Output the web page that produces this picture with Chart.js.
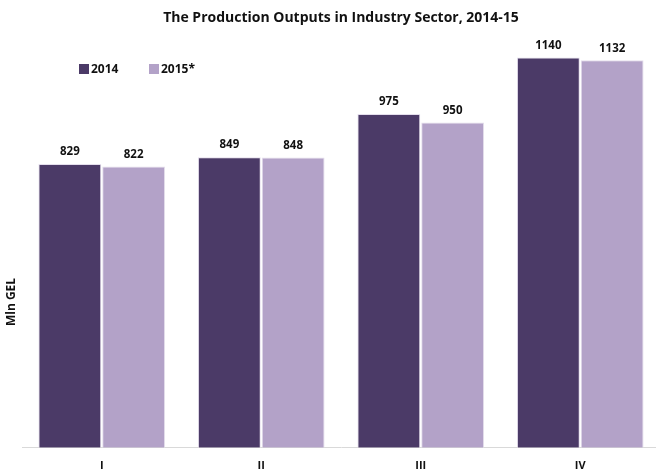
<!DOCTYPE html>
<html><head><meta charset="utf-8">
<script src="https://cdn.jsdelivr.net/npm/chart.js@4"></script>
<style>html,body{margin:0;padding:0;overflow:hidden;background:#fff}#wrap{width:660px;height:483px;position:relative}</style>
</head><body><div id="wrap"><canvas id="c"></canvas></div>
<script>
const categories = ['I','II','III','IV'];
const values2014 = [829, 849, 975, 1140];
const values2015 = [822, 848, 950, 1132];
const seriesNames = ['2014', '2015*'];
const titleText = 'The Production Outputs in Industry Sector, 2014-15';
const yTitle = 'Mln GEL';

const FONT = '"Open Sans", "Noto Sans", sans-serif';
const colors = ['#4B3A67', '#B3A2C8'];

const extras = {
  id: 'extras',
  afterDatasetsDraw(chart) {
    const ctx = chart.ctx;
    ctx.save();
    ctx.fillStyle = '#111';
    ctx.textAlign = 'center';
    ctx.textBaseline = 'middle';
    ctx.font = 'bold 11.5px ' + FONT;
    chart.data.datasets.forEach((ds, i) => {
      chart.getDatasetMeta(i).data.forEach((bar, j) => {
        ctx.fillText(String(ds.data[j]), bar.x, bar.y - 12);
      });
    });
    // title
    ctx.font = 'bold 14px ' + FONT;
    ctx.fillText(titleText, 341, 18);
    // y title
    ctx.save();
    ctx.translate(12, 302);
    ctx.rotate(-Math.PI / 2);
    ctx.font = 'bold 12px ' + FONT;
    ctx.fillText(yTitle, 0, 0);
    ctx.restore();
    // legend
    ctx.textAlign = 'left';
    ctx.font = 'bold 12px ' + FONT;
    const lx = [79, 149];
    seriesNames.forEach((n, i) => {
      ctx.fillStyle = colors[i];
      ctx.fillRect(lx[i], 64, 10, 10);
      ctx.fillStyle = '#111';
      ctx.fillText(n, lx[i] + 12, 69.5);
    });
    ctx.restore();
  }
};

new Chart(document.getElementById('c'), {
  type: 'bar',
  data: {
    labels: categories,
    datasets: [
      { label: seriesNames[0], data: values2014, backgroundColor: colors[0], borderColor: '#E4DEEC', borderWidth: 1, categoryPercentage: 0.8, barPercentage: 0.985 },
      { label: seriesNames[1], data: values2015, backgroundColor: colors[1], borderColor: '#E4DEEC', borderWidth: 1, categoryPercentage: 0.8, barPercentage: 0.985 }
    ]
  },
  options: {
    responsive: true,
    maintainAspectRatio: false,
    animation: false,
    layout: { padding: { left: 22, top: 37, right: 0, bottom: 0 } },
    plugins: { legend: { display: false }, title: { display: false }, tooltip: { enabled: false } },
    scales: {
      x: {
        grid: { display: false, drawTicks: false },
        border: { display: true, color: '#D9D9D9', width: 1 },
        ticks: { color: '#111', font: { family: FONT, size: 11, weight: 'bold' }, padding: 11 }
      },
      y: { display: false, min: 0, max: 1200 }
    }
  },
  plugins: [extras]
});
</script></body></html>
